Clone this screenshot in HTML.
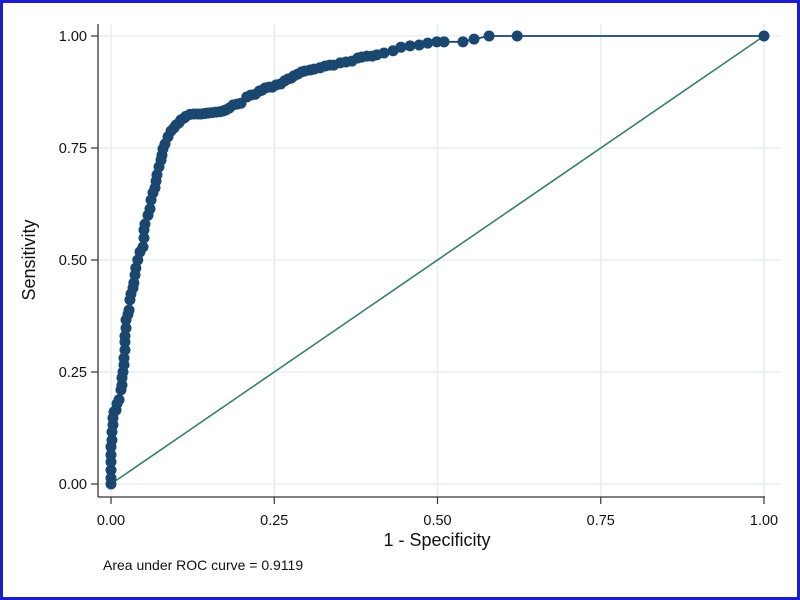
<!DOCTYPE html>
<html><head><meta charset="utf-8"><style>
html,body{margin:0;padding:0;background:#fff}
svg{display:block;font-family:"Liberation Sans",sans-serif}
</style></head><body>
<svg id="chart" width="800" height="600" viewBox="0 0 800 600" xmlns="http://www.w3.org/2000/svg">
<rect x="1.5" y="1.5" width="797" height="597" fill="#fff" stroke="#1c1ccc" stroke-width="3"/>
<g id="grid"></g>
<g id="axes"></g>
<line id="diag" stroke="#3a7d6a" stroke-width="1.6"/>
<g id="series"></g>
<text x="35" y="260" font-size="18" text-anchor="middle" transform="rotate(-90 35 260)" fill="#111">Sensitivity</text>
<text x="437" y="546" font-size="18" text-anchor="middle" fill="#111">1 - Specificity</text>
<text x="103" y="570" font-size="14" fill="#111">Area under ROC curve = 0.9119</text>
</svg>
<script>
const fpr=[0,0,0,0,0,0,.0015,.0015,.003,.003,.0046,.0077,.0092,.0123,.0153,.0168,.0168,.0184,.0199,.0199,.0214,.0214,.0214,.023,.023,.026,.0276,.029,.0306,.0337,.035,.0368,.038,.041,.0444,.049,.0505,.0505,.052,.0567,.0597,.0613,.0643,.0674,.069,.0704,.0735,.0766,.078,.0796,.0827,.0873,.0919,.0965,.0995,.104,.107,.112,.115,.121,.127,.133,.138,.144,.149,.155,.161,.167,.172,.176,.181,.187,.193,.199,.208,.214,.221,.227,.231,.236,.242,.247,.253,.26,.266,.271,.276,.28,.286,.292,.297,.305,.311,.32,.328,.335,.341,.351,.36,.369,.378,.384,.392,.4,.407,.418,.432,.444,.458,.472,.485,.499,.51,.539,.556,.579,.622,1];
const tpr=[0,.013,.031,.049,.065,.083,.098,.116,.132,.147,.161,.165,.179,.188,.21,.221,.237,.25,.266,.281,.299,.317,.33,.348,.366,.379,.388,.411,.424,.4375,.449,.4665,.482,.5,.518,.529,.549,.567,.58,.6,.614,.634,.65,.661,.676,.69,.708,.723,.734,.748,.759,.775,.788,.795,.801,.806,.8125,.817,.821,.825,.826,.826,.826,.827,.828,.829,.83,.831,.833,.835,.839,.846,.848,.85,.864,.868,.87,.877,.879,.884,.886,.886,.891,.893,.9,.904,.906,.911,.915,.92,.922,.924,.926,.929,.933,.935,.935,.94,.942,.944,.951,.953,.955,.955,.958,.962,.967,.975,.978,.98,.984,.987,.987,.987,.993,1,1,1];
const xTicks=[0,0.25,0.5,0.75,1];
const yTicks=[0,0.25,0.5,0.75,1];
const xTickLabels=["0.00","0.25","0.50","0.75","1.00"];
const yTickLabels=["0.00","0.25","0.50","0.75","1.00"];

const NS="http://www.w3.org/2000/svg";
const X0=111,XW=653,Y0=484,YH=448;
const sx=v=>X0+v*XW, sy=v=>Y0-v*YH;
function mk(tag,attrs,parent){const e=document.createElementNS(NS,tag);for(const k in attrs)e.setAttribute(k,attrs[k]);parent.appendChild(e);return e;}
const grid=document.getElementById('grid'),axes=document.getElementById('axes'),series=document.getElementById('series');
xTicks.forEach((t,i)=>{
  const g=mk('line',{x1:sx(t),x2:sx(t),y1:24,y2:497,stroke:'#e6eef2','stroke-width':1.5},grid);
  
  
  const tk=mk('line',{x1:sx(t),x2:sx(t),y1:497,y2:504,stroke:'#333','stroke-width':1.2},axes);
  
  
  const tl=mk('text',{x:sx(t),y:525,'font-size':14.5,'text-anchor':'middle',fill:'#111'},axes);
  tl.textContent=xTickLabels[i];
  
  
});
yTicks.forEach((t,i)=>{
  const g=mk('line',{x1:98,x2:780,y1:sy(t),y2:sy(t),stroke:'#e6eef2','stroke-width':1.5},grid);
  
  
  const tk=mk('line',{x1:91,x2:98,y1:sy(t),y2:sy(t),stroke:'#333','stroke-width':1.2},axes);
  
  
  const tl=mk('text',{x:87,y:sy(t)+5,'font-size':14.5,'text-anchor':'end',fill:'#111'},axes);
  tl.textContent=yTickLabels[i];
  
  
});
const ya=mk('line',{x1:98,x2:98,y1:24,y2:497,stroke:'#333','stroke-width':1.3},axes);


const xa=mk('line',{x1:98,x2:765,y1:497,y2:497,stroke:'#333','stroke-width':1.3},axes);


const d=document.getElementById('diag');
d.setAttribute('x1',sx(0));d.setAttribute('y1',sy(0));d.setAttribute('x2',sx(1));d.setAttribute('y2',sy(1));
const pl=mk('polyline',{points:fpr.map((v,i)=>sx(v)+','+sy(tpr[i])).join(' '),fill:'none',stroke:'#1a476f','stroke-width':1.8},series);


fpr.forEach((v,i)=>{
  const c=mk('circle',{cx:sx(v),cy:sy(tpr[i]),r:5.5,fill:'#1a476f'},series);
  
  
});
</script>
</body></html>
